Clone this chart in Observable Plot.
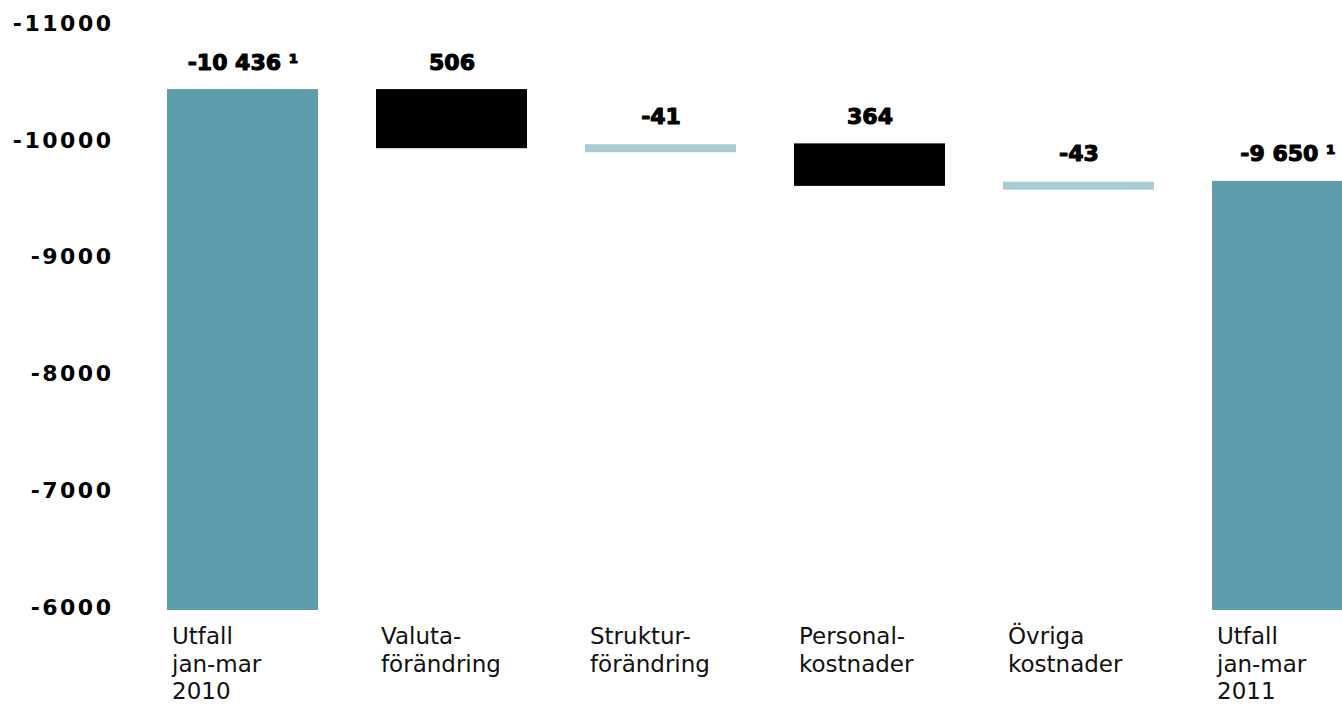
<!DOCTYPE html>
<html>
<head>
<meta charset="utf-8">
<script src="https://cdn.jsdelivr.net/npm/d3@7"></script>
<script src="https://cdn.jsdelivr.net/npm/@observablehq/plot@0.6"></script>
<style>
  html, body { margin: 0; padding: 0; background: #fff; overflow: hidden; }
  g[aria-label="y-axis tick label"] text, g[aria-label="value-label"] text { letter-spacing: 2.5px; }
</style>
</head>
<body>
<div id="chart"></div>
<script>
const categories = ["Utfall\njan-mar\n2010", "Valuta-\nförändring", "Struktur-\nförändring", "Personal-\nkostnader", "Övriga\nkostnader", "Utfall\njan-mar\n2011"];
const values = [-10436, 506, -41, 364, -43, -9650];
const kinds = ["total", "delta", "delta", "delta", "delta", "total"];
const valueLabels = ["-10 436 ¹", "506", "-41", "364", "-43", "-9 650 ¹"];
const yTicks = [-11000, -10000, -9000, -8000, -7000, -6000];
const base = -6000;

let running = 0;
const data = categories.map((c, i) => {
  let start, end;
  if (kinds[i] === "total") { start = base; end = values[i]; running = values[i]; }
  else { start = running; end = running + values[i]; running = end; }
  return { cat: c, kind: kinds[i], value: values[i], start, end, top: Math.min(start, end), mid: (start + end) / 2, label: valueLabels[i] };
});

const totals = data.filter(d => d.kind === "total");
const ups = data.filter(d => d.kind === "delta" && d.value > 0);
const thin = data.filter(d => d.kind === "delta" && d.value < 0);

const font = "'DejaVu Sans', Verdana, sans-serif";

const chart = Plot.plot({
  width: 1342,
  height: 707,
  marginLeft: 113,
  style: { fontFamily: font, background: "#fff", color: "#000" },
  x: { type: "band", domain: categories, range: [167, 1363], paddingInner: 0.2775, paddingOuter: 0, align: 0, round: false, axis: null },
  y: { domain: [-6000, -11000], range: [607, 23.25], ticks: yTicks },
  marks: [
    Plot.axisY({ ticks: yTicks, tickFormat: d => String(d), tickSize: 0, tickPadding: 0, fontSize: 22, fontWeight: 900, stroke: "#000", strokeWidth: 1.1, fill: "#000" }),
    Plot.rectY(totals, { x: "cat", y1: "start", y2: "end", fill: "#5F9CAC", insetBottom: -3 }),
    Plot.rectY(ups, { x: "cat", y1: "start", y2: "end", fill: "#000" }),
    Plot.tickY(thin, { x: "cat", y: "mid", stroke: "#A8CBCF", strokeWidth: 8, dy: 2 }),
    Plot.text(data, { x: "cat", y: "top", text: "label", dy: -27, fontSize: 22, fontWeight: 900, fill: "#000", stroke: "#000", strokeWidth: 1.1, lineAnchor: "middle", ariaLabel: "value-label" }),
    Plot.text(data, { x: "cat", y: () => base, text: "cat", textAnchor: "start", lineAnchor: "top", dx: -71, dy: 17, fontSize: 23, lineHeight: 1.2, fill: "#111" })
  ]
});
document.getElementById("chart").appendChild(chart);
</script>
</body>
</html>
